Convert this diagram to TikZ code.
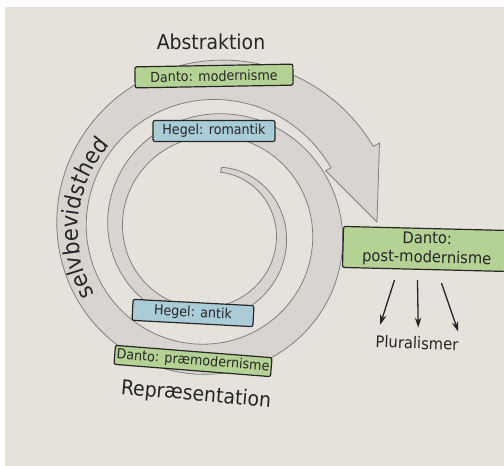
\documentclass[tikz,border=0pt]{standalone}
\usepackage{fontspec}
\setmainfont{DejaVu Sans}[FakeStretch=0.92]
\usepackage{xcolor}
\usepackage{tikz}
\usetikzlibrary{positioning,arrows.meta,decorations.text}

\definecolor{paper}{RGB}{229,225,219}
\definecolor{bandgray}{RGB}{216,213,209}
\definecolor{dantogreen}{RGB}{180,210,148}
\definecolor{hegelblue}{RGB}{170,204,214}
\definecolor{ink}{RGB}{38,38,38}

\begin{document}
\begin{tikzpicture}[x=1pt,y=1pt,
      danto/.style={draw=ink,line width=1.2pt,rounded corners=2pt,fill=dantogreen,inner sep=0pt,minimum height=21pt,font=\fontsize{13.8}{15}\selectfont,text=ink},
      hegel/.style={danto,fill=hegelblue},
      band/.style={draw=black!50,line width=0.8pt,fill=bandgray},
      bigword/.style={font=\fontsize{20.5}{22}\selectfont,text=ink,inner sep=0pt},
      arr/.style={-{Stealth[length=10pt,width=6.5pt]},line width=1.3pt,draw=ink},
      declare function={rmid(\t)=(72-0.125*\t)*(1+0.03*cos(\t));
                        bw(\t)=(5+0.048*(75-\t))*(1+0.15*cos(\t));}]
    \path[use as bounding box] (0,0) rectangle (504,-466);
    \clip (0,0) rectangle (504,-466);
    \fill[white] (0,0) rectangle (504,-466);
    \fill[paper] (5,-7) rectangle (504,-466);

    \begin{scope}[shift={(207,-231)}]
      \filldraw[band] plot[domain=77:-693,samples=320] (\x:{rmid(\x)+bw(\x)/2})
        -- (-693:{rmid(-693)+bw(-693)/2+7}) -- (170,9)
        -- (-693:{rmid(-693)-bw(-693)/2-6})
        -- plot[domain=-693:77,samples=320] (\x:{rmid(\x)-bw(\x)/2}) -- cycle;
      \path[decorate,decoration={text along path,text align=center,text color=ink,
          text={|\fontsize{23}{25}\selectfont|selvbevidsthed}}]
        (214:129) arc[start angle=214,end angle=134,radius=129];
    \end{scope}

    \node[bigword] (abstr) at (211,-42) {Abstraktion};
    \node[danto,minimum width=158pt,rotate=1] (dmod) at (214,-76) {Danto: modernisme};
    \node[hegel,minimum width=122pt] (hrom) at (214,-131) {Hegel: romantik};
    \node[hegel,minimum width=121pt,rotate=-3] (hant) at (193,-313) {Hegel: antik};
    \node[danto,minimum width=157pt,minimum height=19pt,rotate=-4.5] (dpre) at (193,-361) {Danto: præmodernisme};
    \node[bigword,rotate=-5] (repr) at (196,-395) {Repræsentation};

    \node[danto,minimum width=168pt,minimum height=41pt,align=center,font=\fontsize{16}{19}\selectfont,rotate=-1.4] (dpost) at (427,-249) {Danto:\\post-modernisme};
    \node[font=\fontsize{16}{18}\selectfont,text=ink,inner sep=0pt,rotate=-2] (plur) at (417,-343) {Pluralismer};
    \draw[arr] ([xshift=-32pt,yshift=-10pt]dpost.south) -- ([xshift=-37pt,yshift=12pt]plur.north);
    \draw[arr] ([xshift=-9pt,yshift=-10pt]dpost.south) -- ([xshift=1pt,yshift=9pt]plur.north);
    \draw[arr] ([xshift=15pt,yshift=-13pt]dpost.south) -- ([xshift=41pt,yshift=5pt]plur.north);
  \end{tikzpicture}
\end{document}
